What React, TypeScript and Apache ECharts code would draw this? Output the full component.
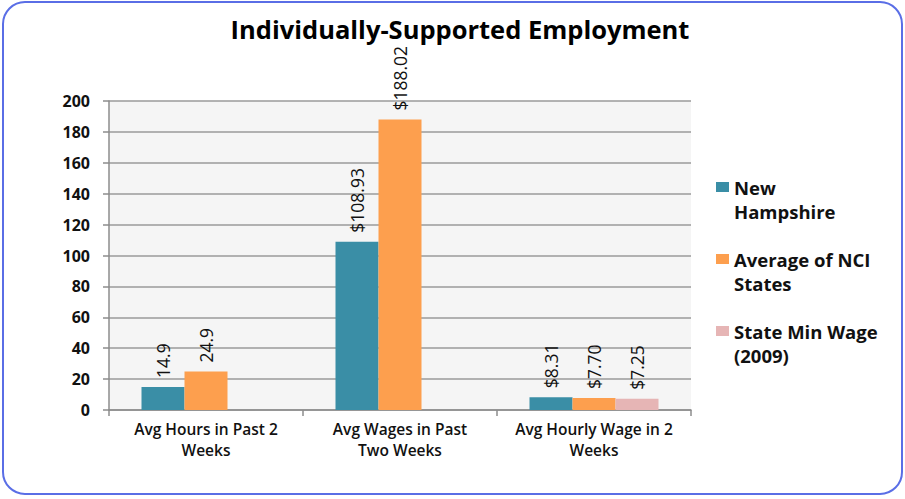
import React, { useEffect, useRef } from "react";
import * as echarts from "echarts";

const titleText = "Individually-Supported Employment";
const categories = ["Avg Hours in Past 2\nWeeks", "Avg Wages in Past\nTwo Weeks", "Avg Hourly Wage in 2\nWeeks"];
const seriesNames = ["New Hampshire", "Average of NCI States", "State Min Wage (2009)"];
const legendLabels = ["New\nHampshire", "Average of NCI\nStates", "State Min Wage\n(2009)"];
const nhValues = [14.9, 108.93, 8.31];
const nciValues = [24.9, 188.02, 7.7];
const minWageValues: (number | null)[] = [null, null, 7.25];
const nhLabels = ["14.9", "$108.93", "$8.31"];
const nciLabels = ["24.9", "$188.02", "$7.70"];
const minWageLabels = ["", "", "$7.25"];
const colors = ["#3a8ea6", "#fd9f4e", "#e6b5b5"];

const FONT = "Open Sans";

export default function App() {
  const ref = useRef<HTMLDivElement>(null);
  useEffect(() => {
    if (!ref.current) return;
    const chart = echarts.init(ref.current, null, { renderer: "svg" });
    const mkLabel = (arr: string[]) => ({
      show: true,
      position: "top" as const,
      rotate: 90,
      align: "left" as const,
      verticalAlign: "middle" as const,
      distance: 9,
      fontFamily: FONT,
      fontSize: 17.5,
      color: "#111",
      formatter: (p: any) => arr[p.dataIndex],
    });
    const values = [nhValues, nciValues, minWageValues];
    const labels = [nhLabels, nciLabels, minWageLabels];
    chart.setOption({
      animation: false,
      backgroundColor: "#ffffff",
      title: {
        text: titleText,
        left: 455,
        textAlign: "center",
        top: 11,
        textStyle: { fontFamily: FONT, fontWeight: "bold", fontSize: 25.5, color: "#000" },
      },
      graphic: [
        {
          type: "rect",
          shape: { x: 3, y: 2, width: 899, height: 492, r: 22 },
          style: { fill: "none", stroke: "#5a6ee6", lineWidth: 2 },
          z: 100,
        },
      ],
      legend: {
        orient: "vertical",
        left: 716,
        top: 151,
        padding: 0,
        itemGap: 0,
        itemWidth: 13,
        itemHeight: 10,
        icon: "rect",
        data: seriesNames,
        formatter: (name: string) => "\n" + legendLabels[seriesNames.indexOf(name)],
        textStyle: {
          fontFamily: FONT,
          fontWeight: "bold",
          fontSize: 18.5,
          color: "#111",
          lineHeight: 24,
        },
      },
      grid: {
        left: 109,
        right: 214,
        top: 101,
        bottom: 89,
        show: true,
        backgroundColor: "#f5f5f5",
        borderWidth: 0,
      },
      xAxis: {
        type: "category",
        data: categories,
        axisLine: { lineStyle: { color: "#8c8c8c", width: 1.5 } },
        axisTick: { show: true, length: 6, lineStyle: { color: "#8c8c8c", width: 1.5 } },
        axisLabel: {
          fontFamily: FONT,
          fontWeight: 600,
          fontSize: 15.5,
          color: "#111",
          lineHeight: 21,
          margin: 8,
          interval: 0,
        },
      },
      yAxis: {
        type: "value",
        min: 0,
        max: 200,
        interval: 20,
        axisLine: { show: true, lineStyle: { color: "#8c8c8c", width: 1.5 } },
        axisTick: { show: true, length: 6, lineStyle: { color: "#8c8c8c", width: 1.5 } },
        splitLine: { lineStyle: { color: "#9a9a9a", width: 1.5 } },
        axisLabel: {
          fontFamily: FONT,
          fontWeight: "bold",
          fontSize: 16,
          color: "#111",
          margin: 19,
        },
      },
      series: seriesNames.map((name, i) => ({
        name,
        type: "bar",
        data: values[i],
        barWidth: 43,
        barGap: "0%",
        itemStyle: { color: colors[i] },
        label: mkLabel(labels[i]),
      })),
    });
    return () => chart.dispose();
  }, []);
  return (
    <div
      ref={ref}
      style={{ position: "absolute", left: 0, top: 0, width: 905, height: 499 }}
    />
  );
}
